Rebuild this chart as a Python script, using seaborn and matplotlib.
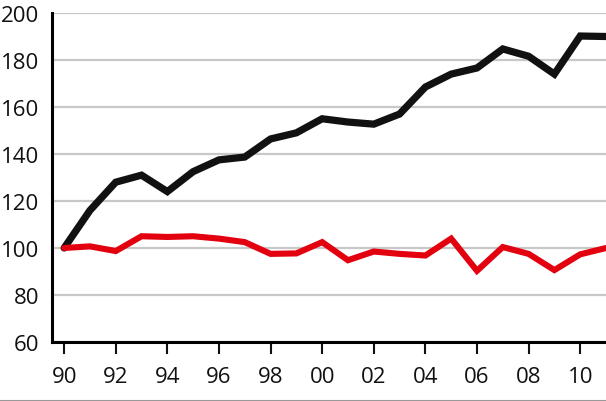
import matplotlib
matplotlib.use('Agg')
import matplotlib.pyplot as plt
from matplotlib.lines import Line2D
import pandas as pd
import seaborn as sns

years = list(range(1990, 2012))
black_vals = [100, 116, 128, 131, 124, 132.5, 137.5, 138.7, 146.4, 149, 155, 153.6,
              152.7, 157, 168.5, 174, 176.6, 184.7, 181.6, 174, 190.2, 190]
red_vals = [100, 100.7, 98.7, 105, 104.7, 105, 104, 102.5, 97.5, 97.7, 102.5, 94.8,
            98.5, 97.5, 96.8, 104, 90.3, 100.4, 97.5, 90.6, 97.3, 100]
tick_years = list(range(1990, 2011, 2))
tick_labels = [str(y)[2:] for y in tick_years]

df = pd.DataFrame({
    'year': years * 2,
    'value': black_vals + red_vals,
    'serie': ['a'] * len(years) + ['b'] * len(years),
})

sns.set_style('white')
plt.rcParams['font.family'] = ['Open Sans', 'DejaVu Sans']

fig = plt.figure(figsize=(6.06, 4.02), dpi=100)
ax = fig.add_axes([52 / 606, (402 - 343) / 402, 1 - 52 / 606, (343 - 14) / 402])

sns.lineplot(data=df, x='year', y='value', hue='serie',
             palette={'a': '#111111', 'b': '#e3000f'}, ax=ax, legend=False)
for line, lw in zip(ax.get_lines(), [5.2, 4.4]):
    line.set_linewidth(lw)
    line.set_solid_joinstyle('miter')

ax.set_xlim(1989.53, 2011.0)
ax.set_ylim(60, 200)
ax.set_yticks(range(60, 201, 20))
ax.set_xticks(tick_years)
ax.set_xticklabels(tick_labels)
ax.set_xlabel('')
ax.set_ylabel('')
ax.yaxis.grid(True, color='#c8c8c8', linewidth=1.6)
ax.set_axisbelow(True)

for s in ['top', 'right']:
    ax.spines[s].set_visible(False)
for s in ['left', 'bottom']:
    ax.spines[s].set_color('black')
    ax.spines[s].set_linewidth(2.2)

ax.tick_params(axis='y', length=0, pad=9, labelsize=16, colors='#111111')
ax.tick_params(axis='x', length=8.5, width=1.5, pad=9, labelsize=16,
               colors='#111111', direction='out', bottom=True)

fig.add_artist(Line2D([0, 1], [0.5 / 402, 0.5 / 402], color='#999999', linewidth=1.5))

fig.savefig('out.png', dpi=100)
